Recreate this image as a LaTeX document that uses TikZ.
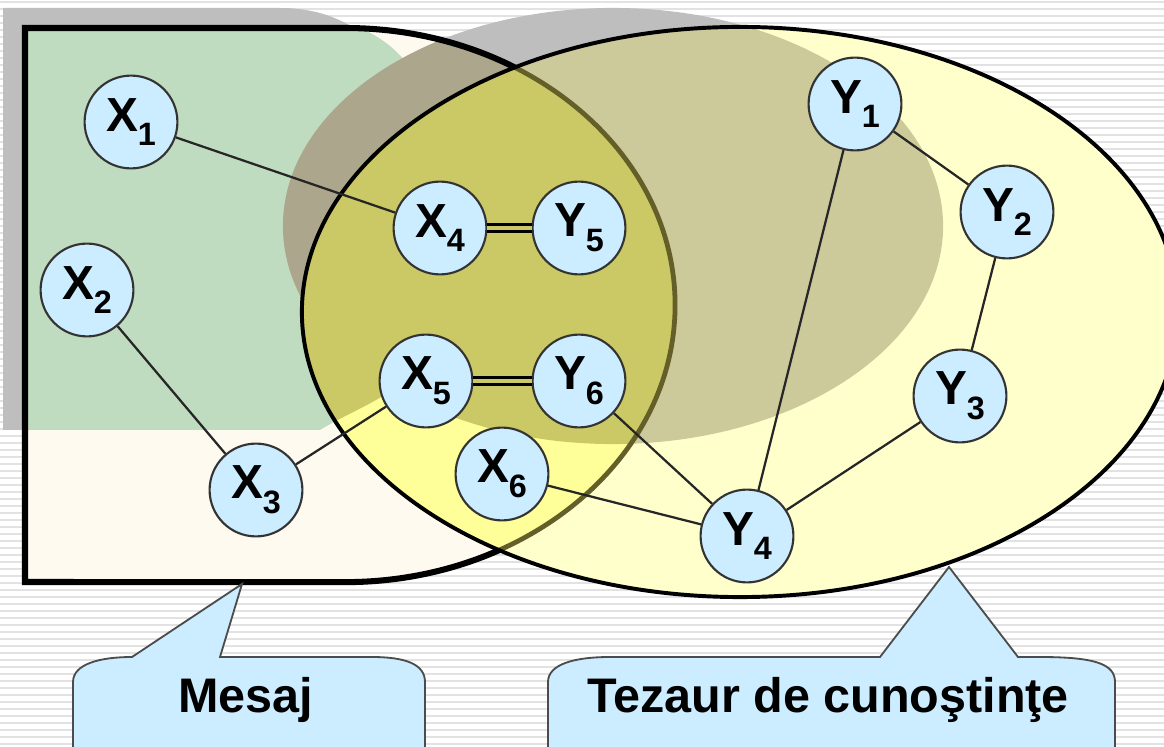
\documentclass[tikz,border=0pt]{standalone}
\usepackage{fontspec}
\setmainfont{Liberation Sans}
\usetikzlibrary{positioning}
\definecolor{nodeblue}{RGB}{204,236,255}
\definecolor{stripegray}{RGB}{226,226,226}
\definecolor{shadegray}{RGB}{190,190,190}
\definecolor{creamfill}{RGB}{255,250,240}
\definecolor{sagefill}{RGB}{192,220,192}
\definecolor{taupefill}{RGB}{171,166,140}
\definecolor{paleyellow}{RGB}{255,255,204}
\definecolor{khakifill}{RGB}{204,201,154}
\definecolor{brightyellow}{RGB}{255,255,153}
\definecolor{olivefill}{RGB}{203,200,102}
\definecolor{oliveline}{RGB}{100,95,40}
\tikzset{
  elem/.style={circle, draw=black!80, line width=1.5pt, fill=nodeblue, minimum size=2.32cm, inner sep=0pt, font=\fontsize{34}{34}\selectfont\bfseries},
  link/.style={draw=black!85, line width=1.6pt},
  twin/.style={draw=black, line width=2.4pt, double=olivefill, double distance=2.4pt},
  callout/.style={draw=black!70, line width=1.3pt, fill=nodeblue},
  stripe/.style={draw=stripegray, line width=1.6pt},
  calltext/.style={font=\fontsize{34.5}{34.5}\selectfont\bfseries},
}
\newcommand{\elem}[2]{#1\raisebox{-10.5pt}{\fontsize{23}{23}\selectfont #2}}
\newcommand{\mesajpath}{(25,28) -- (345,28) arc[start angle=90, end angle=-90, x radius=8.25cm, y radius=6.925cm] -- (25,582) -- cycle}
\newcommand{\verdepath}{(25,28) -- (360,28) .. controls (400,45) and (430,80) .. (440,150) -- (440,330) .. controls (420,390) and (360,405) .. (320,430) -- (25,430) -- cycle}
\newcommand{\umbrapath}{(613,226) ellipse [x radius=8.25cm, y radius=5.45cm]}
\newcommand{\shadowpath}{(3,8) -- (280,8) .. controls (315,8) and (340,18) .. (360,32) -- (360,430) -- (3,430) -- cycle}
\newcommand{\tezaurpath}{(740,312) ellipse [x radius=10.95cm, y radius=7.125cm]}
\begin{document}
\begin{tikzpicture}[x=0.025cm, y=-0.025cm]
\useasboundingbox (0,0) rectangle (1164,747);
\clip (0,0) rectangle (1164,747);

% --- striped background ---
\foreach \s in {2,9,...,747}
  \draw[stripe] (0,\s) -- (1164,\s);

% --- grey shadow and grey ellipse ---
\fill[shadegray] \shadowpath;
\fill[shadegray] \umbrapath;

% --- message shape ---
\fill[creamfill] \mesajpath;
\begin{scope}
  \clip \mesajpath;
  \fill[sagefill] \verdepath;
  \fill[taupefill] \umbrapath;
\end{scope}
\draw[black, line width=4.3pt] \mesajpath;

% --- knowledge thesaurus ---
\fill[paleyellow] \tezaurpath;
\begin{scope}
  \clip \tezaurpath;
  \fill[khakifill] \umbrapath;
  \begin{scope}
    \clip \mesajpath;
    \fill[brightyellow] (0,0) rectangle (1164,747);
    \fill[olivefill] \verdepath;
    \fill[olivefill] \umbrapath;
  \end{scope}
  \draw[oliveline, line width=3.4pt] \mesajpath;
\end{scope}
\draw[black, line width=2.8pt] \tezaurpath;

% --- elements ---
\node[elem] (x1) at (131,122) {\elem{X}{1}};
\node[elem] (x2) at (87,290)  {\elem{X}{2}};
\node[elem] (x3) at (256,490) {\elem{X}{3}};
\node[elem] (x4) at (440,228) {\elem{X}{4}};
\node[elem] (x5) at (426,381) {\elem{X}{5}};
\node[elem] (x6) at (502,474) {\elem{X}{6}};
\node[elem] (y1) at (855,104) {\elem{Y}{1}};
\node[elem] (y2) at (1007,212) {\elem{Y}{2}};
\node[elem] (y3) at (960,396) {\elem{Y}{3}};
\node[elem] (y4) at (747,536) {\elem{Y}{4}};
\node[elem] (y5) at (579,228) {\elem{Y}{5}};
\node[elem] (y6) at (579,381) {\elem{Y}{6}};

% --- links ---
\draw[link] (x1) -- (x4);
\draw[link] (x2) -- (x3);
\draw[link] (x3) -- (x5);
\draw[link] (x6) -- (y4);
\draw[link] (y6) -- (y4);
\draw[link] (y1) -- (y4);
\draw[link] (y1) -- (y2);
\draw[link] (y2) -- (y3);
\draw[link] (y3) -- (y4);
\draw[twin] (x4) -- (y5);
\draw[twin] (x5) -- (y6);

% --- callouts ---
\draw[callout] (73,770) -- (73,682) .. controls (73,664) and (100,657) .. (132,657) -- (242,584) -- (220,657) -- (372,657) .. controls (405,657) and (425,664) .. (425,682) -- (425,770);
\node[calltext] (mesaj) at (246,700) {Mesaj};

\draw[callout] (548,770) -- (548,682) .. controls (548,664) and (575,657) .. (610,657) -- (880,657) -- (949,567) -- (1018,657) -- (1040,657) .. controls (1095,657) and (1115,664) .. (1115,682) -- (1115,770);
\node[calltext] (tezaur) at (828,700) {Tezaur de cunoştinţe};

\end{tikzpicture}
\end{document}
